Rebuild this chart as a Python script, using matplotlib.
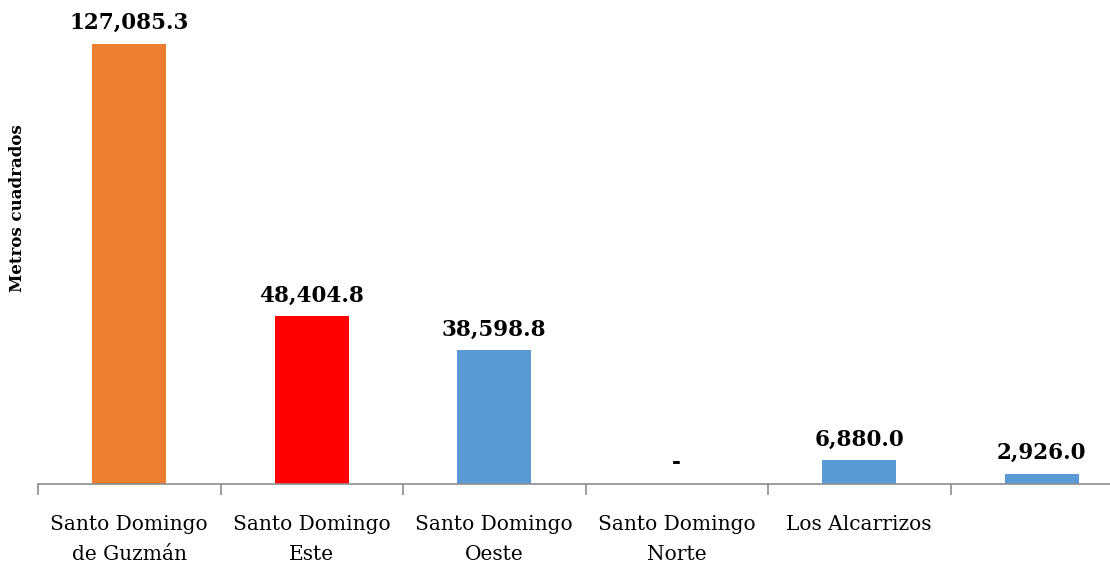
import numpy as np
import matplotlib.pyplot as plt

categories = ["Santo Domingo\nde Guzmán", "Santo Domingo\nEste", "Santo Domingo\nOeste",
              "Santo Domingo\nNorte", "Los Alcarrizos", ""]
values = [127085.3, 48404.8, 38598.8, 0.0, 6880.0, 2926.0]
colors = ["#ED7D31", "#FF0000", "#5B9BD5", "#5B9BD5", "#5B9BD5", "#5B9BD5"]

plt.rcParams['font.family'] = ['DejaVu Serif']

W, H = 1110, 565
fig = plt.figure(figsize=(W / 100, H / 100), dpi=100)
# axes spans slightly past the right edge, as in the original crop
left, right, base = 38, 1133, 484
ax = fig.add_axes([left / W, 1 - base / H, (right - left) / W, base / H])

x = np.arange(len(values))
ax.bar(x, values, width=0.405, color=colors, zorder=2)
ax.set_xlim(-0.5, len(values) - 0.5)
ax.set_ylim(0, max(values) * base / 440)

for xi, v in zip(x, values):
    txt = "-" if v == 0 else f"{v:,.1f}"
    ax.annotate(txt, (xi, v), xytext=(0, 7), textcoords="offset points",
                ha="center", va="bottom", fontsize=15.5, fontweight="bold")

for s in ["top", "right", "left"]:
    ax.spines[s].set_visible(False)
ax.spines["bottom"].set_color("#8c8c8c")
ax.spines["bottom"].set_linewidth(1.2)
ax.set_yticks([])
ax.set_xticks(np.arange(len(values) + 1) - 0.5, minor=True)
ax.tick_params(axis="x", which="minor", length=8, width=1.2, color="#8c8c8c", direction="out")
ax.tick_params(axis="x", which="major", length=0, pad=22)
ax.set_xticks(x)
ax.set_xticklabels(categories, fontsize=14.5, linespacing=1.75)

fig.text(18 / W, 1 - 208 / H, "Metros cuadrados", rotation=90, ha="center", va="center",
         fontsize=12, fontweight="bold")

fig.savefig("out.png", dpi=100)
